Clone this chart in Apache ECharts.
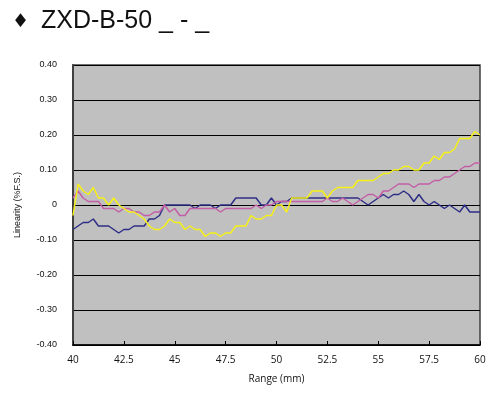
<!DOCTYPE html>
<html>
<head>
<meta charset="utf-8">
<script src="https://cdn.jsdelivr.net/npm/echarts@6/dist/echarts.min.js"></script>
<style>html,body{margin:0;padding:0;background:#fff;}#c{width:491px;height:394px;}</style>
</head>
<body>
<div id="c"></div>
<script>
var titleMark = '♦';
var titleText = 'ZXD-B-50 _ - _';
var xTicks = ['40','42.5','45','47.5','50','52.5','55','57.5','60'];
var yTicks = ['-0.40','-0.30','-0.20','-0.10','0','0.10','0.20','0.30','0.40'];
var rangeMm = [40,40.25,40.5,40.75,41,41.25,41.5,41.75,42,42.25,42.5,42.75,43,43.25,43.5,43.75,44,44.25,44.5,44.75,
  45,45.25,45.5,45.75,46,46.25,46.5,46.75,47,47.25,47.5,47.75,48,48.25,48.5,48.75,49,49.25,49.5,49.75,
  50,50.25,50.5,50.75,51,51.25,51.5,51.75,52,52.25,52.5,52.75,53,53.25,53.5,53.75,54,54.25,54.5,54.75,
  55,55.25,55.5,55.75,56,56.25,56.5,56.75,57,57.25,57.5,57.75,58,58.25,58.5,58.75,59,59.25,59.5,59.75,60];
var navy = [-0.07,-0.06,-0.05,-0.05,-0.04,-0.06,-0.06,-0.06,-0.07,-0.08,-0.07,-0.07,-0.06,-0.06,-0.06,-0.04,-0.04,-0.03,0.00,0.00,
  0.00,0.00,0.00,0.00,-0.01,0.00,0.00,0.00,-0.01,0.00,0.00,0.00,0.02,0.02,0.02,0.02,0.02,0.00,0.00,0.02,
  0.00,0.01,0.01,0.02,0.02,0.02,0.02,0.02,0.02,0.02,0.02,0.02,0.02,0.02,0.02,0.02,0.02,0.01,0.00,0.01,
  0.02,0.03,0.02,0.03,0.03,0.04,0.03,0.01,0.03,0.01,0.00,0.01,0.00,-0.01,0.00,-0.01,-0.02,0.00,-0.02,-0.02,-0.02];
var pink = [0.02,0.04,0.02,0.01,0.01,0.01,-0.01,-0.01,-0.01,-0.02,-0.01,-0.01,-0.02,-0.02,-0.03,-0.03,-0.02,-0.02,0.00,-0.02,
  -0.01,-0.03,-0.03,-0.01,-0.01,-0.01,-0.01,-0.01,-0.01,-0.02,-0.01,-0.01,-0.01,-0.01,-0.01,-0.01,0.00,-0.01,0.00,0.00,
  0.01,0.01,0.01,0.01,0.01,0.01,0.01,0.01,0.01,0.01,0.02,0.01,0.01,0.02,0.01,0.00,0.01,0.02,0.03,0.03,
  0.02,0.04,0.04,0.05,0.06,0.06,0.06,0.05,0.06,0.06,0.06,0.07,0.07,0.08,0.08,0.09,0.10,0.11,0.11,0.12,0.12];
var yellow = [-0.03,0.06,0.04,0.03,0.05,0.02,0.02,0.00,0.02,0.00,-0.01,-0.02,-0.02,-0.03,-0.04,-0.06,-0.07,-0.07,-0.06,-0.04,
  -0.05,-0.05,-0.07,-0.06,-0.07,-0.07,-0.09,-0.08,-0.08,-0.09,-0.08,-0.08,-0.06,-0.06,-0.06,-0.03,-0.04,-0.04,-0.03,-0.03,
  0.00,0.00,-0.02,0.02,0.02,0.02,0.02,0.04,0.04,0.04,0.02,0.04,0.05,0.05,0.05,0.05,0.07,0.07,0.07,0.07,
  0.08,0.09,0.09,0.10,0.10,0.11,0.11,0.10,0.10,0.12,0.12,0.14,0.13,0.15,0.15,0.16,0.19,0.19,0.19,0.21,0.20];

function pairs(ys){ return rangeMm.map(function(x,i){ return [x, ys[i]]; }); }
function line(name, ys, color){
  return {name:name, type:'line', data:pairs(ys), showSymbol:false, symbol:'none',
    lineStyle:{color:color, width:1.5}, itemStyle:{color:color}, animation:false, z:3};
}
var chart = echarts.init(document.getElementById('c'), null, {renderer:'canvas'});
chart.setOption({
  animation:false,
  backgroundColor:'#ffffff',
  graphic:[
    {type:'text', left:12, top:13, silent:true,
      style:{text:titleMark, font:'normal 19px "DejaVu Sans"', fill:'#111'}},
    {type:'text', left:41, top:9, silent:true,
      style:{text:titleText, font:'normal 25px "Liberation Sans"', fill:'#111'}}
  ],
  grid:{left:73, top:65, width:407, height:280, show:true, backgroundColor:'#c0c0c0', borderColor:'#404040', borderWidth:1.5, z:0},
  xAxis:{
    type:'value', min:40, max:60, interval:2.5,
    name:'Range (mm)', nameLocation:'middle', nameGap:29,
    nameTextStyle:{fontSize:10, fontFamily:'Open Sans', color:'#111'},
    axisLine:{show:true, onZero:false, lineStyle:{color:'#000', width:1.5}},
    axisTick:{show:true, inside:true, length:4, lineStyle:{color:'#000'}},
    axisLabel:{fontSize:10, fontFamily:'Open Sans', color:'#111', margin:10,
      formatter:function(v){ var s=String(v); return xTicks.indexOf(s)>=0 ? s : ''; }},
    splitLine:{show:false}
  },
  yAxis:{
    type:'value', min:-0.4, max:0.4, interval:0.1,
    name:'Linearity (%F.S.)', nameLocation:'middle', nameGap:51, nameRotate:90,
    nameTextStyle:{fontSize:9, fontFamily:'Liberation Sans', color:'#111'},
    axisLine:{show:true, lineStyle:{color:'#404040', width:2}},
    axisTick:{show:false},
    axisLabel:{fontSize:9, fontFamily:'Liberation Sans', color:'#111', margin:16,
      formatter:function(v){ var r=Math.round(v*100)/100; var s = r===0 ? '0' : r.toFixed(2); return yTicks.indexOf(s)>=0 ? s : ''; }},
    splitLine:{show:true, lineStyle:{color:'#000', width:1}}
  },
  series:[
    line('navy', navy, '#2e2e86'),
    line('pink', pink, '#c35ea6'),
    line('yellow', yellow, '#f5f016')
  ]
});
</script>
</body>
</html>
